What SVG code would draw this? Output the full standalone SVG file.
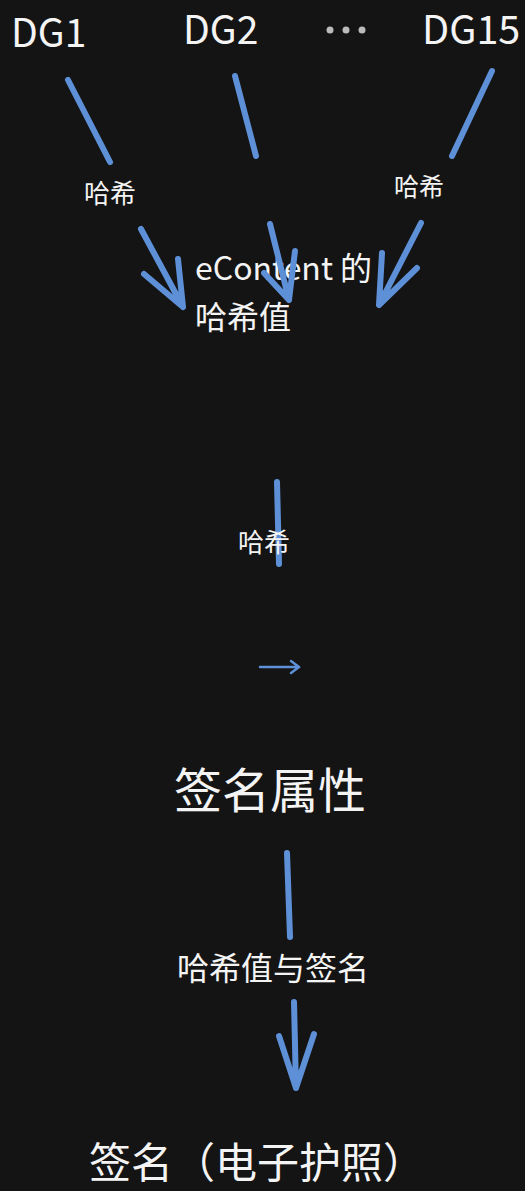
<svg xmlns="http://www.w3.org/2000/svg" width="525" height="1191" viewBox="0 0 525 1191">
<style>
.t{fill:#f4f4f4;font-family:"Noto Sans CJK SC","Noto Sans",sans-serif}
.c{stroke:#5e90d8;stroke-width:6;stroke-linecap:round;fill:none;stroke-linejoin:round}
</style>
<rect width="525" height="1191" fill="#141414"/>
<g id="dg1"><text class="t" x="11" y="47" font-size="39">DG1</text></g>
<g id="dg2"><text class="t" x="183" y="44" font-size="39">DG2</text></g>
<g id="dots"><circle cx="330" cy="30" r="3.5" fill="#bbb"/><circle cx="346" cy="30" r="3.5" fill="#bbb"/><circle cx="362" cy="30" r="3.5" fill="#bbb"/></g>
<g id="dg15"><text class="t" x="422" y="44" font-size="39.5">DG15</text></g>
<g id="econtent"><text class="t" x="195" y="280" font-size="32">eContent 的</text><text class="t" x="195" y="329" font-size="32">哈希值</text></g>
<g id="sigattr"><text class="t" x="174" y="808" font-size="48">签名属性</text></g>
<g id="sig"><text class="t" x="89" y="1178" font-size="42">签名（电子护照）</text></g>
<g id="connectors">
<path class="c" d="M68,80 L110,162"/>
<path class="c" d="M141,229 L183,307 M144,274 L183,307 L178,259"/>
<text class="t" x="84" y="203" font-size="26">哈希</text>
<path class="c" d="M235,76 L256,156"/>
<path class="c" d="M270,224 L289,300 M264,273 L289,300 L295,251"/>
<path class="c" d="M492,71 L452,156"/>
<path class="c" d="M421,223 L379,305 M417,268 L379,305 L382,253"/>
<text class="t" x="394" y="196" font-size="25">哈希</text>
<path class="c" d="M277,482 L279,564"/>
<text class="t" x="238" y="552" font-size="26">哈希</text>
<path d="M260,667 L299,667 M291,661 L299,667 L291,673" stroke="#5e90d8" stroke-width="2.5" fill="none" stroke-linecap="round"/>
<path class="c" d="M287,853 L290,937"/>
<text class="t" x="177" y="980" font-size="32">哈希值与签名</text>
<path class="c" d="M294,1002 L296,1088 M279,1036 L296,1088 L314,1034"/>
</g>
</svg>
